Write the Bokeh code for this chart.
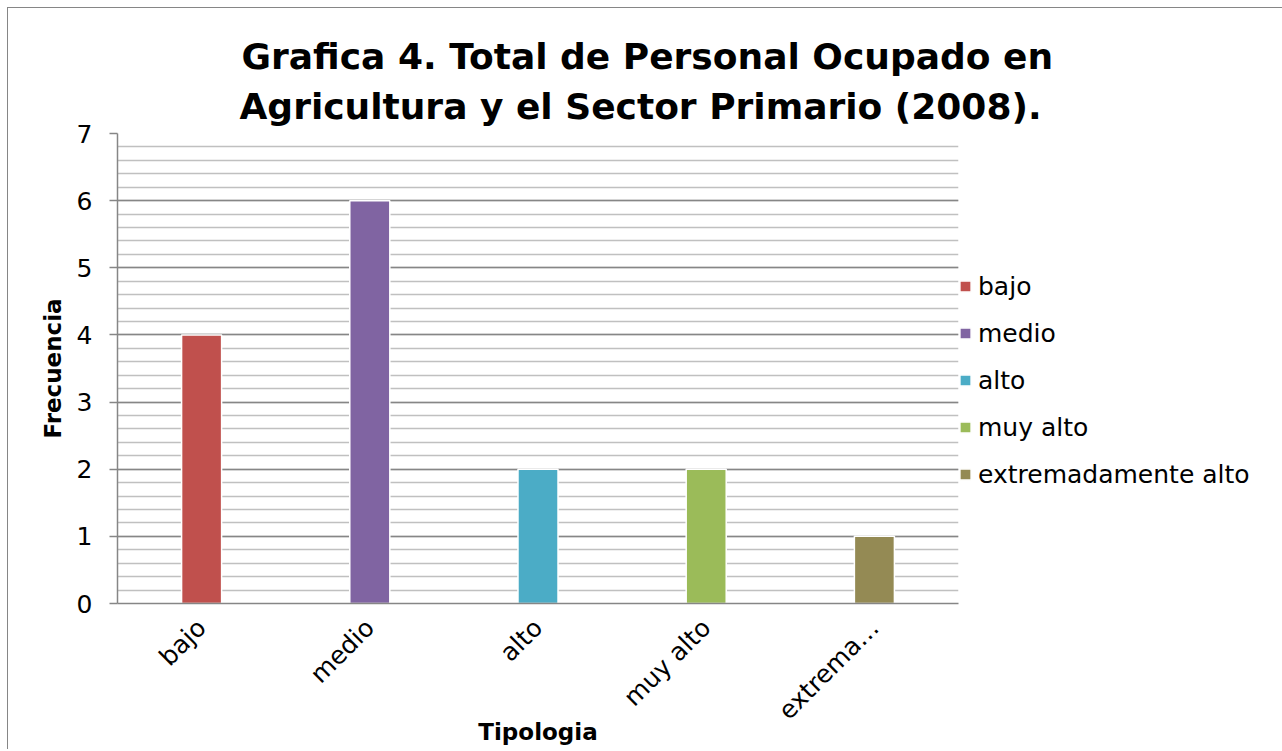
from bokeh.plotting import figure
from bokeh.models import (FactorRange, Range1d, SingleIntervalTicker, Legend, LegendItem,
                          Title, ColumnDataSource)
from bokeh.embed import file_html
from bokeh.resources import INLINE
import math

# ---- data ----
categories = ["bajo", "medio", "alto", "muy alto", "extremadamente alto"]
tick_labels = ["bajo", "medio", "alto", "muy alto", "extrema\u2026"]
values = [4, 6, 2, 2, 1]
colors = ["#C0504D", "#8064A2", "#4BACC6", "#9BBB59", "#948A54"]
title_lines = ["Grafica 4. Total de Personal Ocupado en",
               "Agricultura y el Sector Primario (2008)."]
y_label = "Frecuencia"
x_label = "Tipologia"

REG = "DejaVu Sans"
BOLD = "DejaVu Sans"

p = figure(x_range=FactorRange(*tick_labels, range_padding=0),
           y_range=Range1d(0, 7),
           frame_width=841, frame_height=470,
           min_border_left=109, min_border_right=322,
           min_border_top=125, min_border_bottom=146,
           output_backend="svg", toolbar_location=None,
           background_fill_color="white", border_fill_color="white")
p.styles = {"border-left": "1px solid #868686", "border-top": "1px solid #868686",
            "margin-left": "7px", "margin-top": "7px"}
p.outline_line_color = None

src = ColumnDataSource(dict(cat=tick_labels, name=categories, val=values, color=colors))
r = p.vbar(x="cat", top="val", width=0.238, source=src, fill_color="color",
           line_color="white", line_width=1.5)

# titles (first added is closest to the plot)
t2 = Title(text=title_lines[1], align="left", offset=122,
           text_font=BOLD, text_font_size="36px", text_font_style="bold",
           text_color="#000000", standoff=14)
t1 = Title(text=title_lines[0], align="left", offset=124,
           text_font=BOLD, text_font_size="36px", text_font_style="bold",
           text_color="#000000", standoff=0)
p.add_layout(t2, "above")
p.add_layout(t1, "above")

# y axis
ya = p.yaxis[0]
ya.ticker = SingleIntervalTicker(interval=1, num_minor_ticks=5)
ya.axis_line_color = "#868686"
ya.axis_line_width = 1.5
ya.major_tick_line_color = "#868686"
ya.major_tick_line_width = 1.5
ya.major_tick_out = 8
ya.major_tick_in = 0
ya.minor_tick_line_color = None
ya.major_label_text_font = REG
ya.major_label_text_font_size = "25px"
ya.major_label_text_color = "#000000"
ya.major_label_standoff = 17
ya.axis_label = y_label
ya.axis_label_text_font = BOLD
ya.axis_label_text_font_style = "bold"
ya.axis_label_text_font_size = "23px"
ya.axis_label_text_color = "#000000"
ya.axis_label_standoff = 8

# x axis
xa = p.xaxis[0]
xa.axis_line_color = "#868686"
xa.axis_line_width = 1.5
xa.major_tick_line_color = None
xa.minor_tick_line_color = None
xa.major_label_orientation = math.pi / 4
xa.major_label_text_font = REG
xa.major_label_text_font_size = "25px"
xa.major_label_text_color = "#000000"
xa.major_label_standoff = 14
xa.axis_label = x_label
xa.axis_label_text_font = BOLD
xa.axis_label_text_font_style = "bold"
xa.axis_label_text_font_size = "23px"
xa.axis_label_text_color = "#000000"
xa.axis_label_standoff = -19

# grid
p.xgrid.grid_line_color = None
p.ygrid.grid_line_color = "#868686"
p.ygrid.grid_line_width = 1.5
p.ygrid.minor_grid_line_color = "#C0C0C0"
p.ygrid.minor_grid_line_width = 1.5

# legend
items = [LegendItem(label=c, renderers=[r], index=i) for i, c in enumerate(categories)]
leg = Legend(items=items, location=(0, 114), orientation="vertical",
             border_line_color=None, background_fill_alpha=0,
             margin=0, padding=0, spacing=17,
             glyph_width=14, glyph_height=14, label_height=30,
             label_standoff=6, label_text_font=REG, label_text_font_size="25px",
             label_text_color="#000000")
p.add_layout(leg, "right")

open("out.html", "w").write(file_html(p, INLINE))
